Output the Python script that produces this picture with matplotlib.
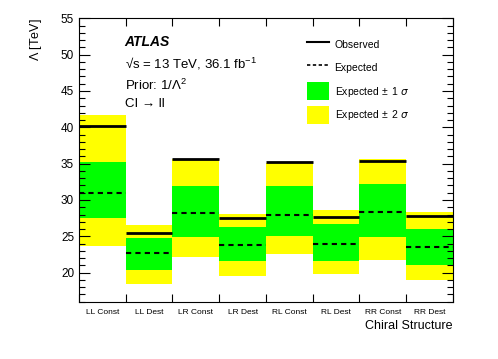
import numpy as np
import matplotlib
matplotlib.use("Agg")
import matplotlib.pyplot as plt
from matplotlib.patches import Patch
from matplotlib.lines import Line2D
from matplotlib.ticker import MultipleLocator, FixedLocator

plt.rcParams['font.family'] = ['Liberation Sans', 'DejaVu Sans']
plt.rcParams['mathtext.fontset'] = 'custom'
plt.rcParams['mathtext.rm'] = 'Liberation Sans'

# chiral structures and limits on Lambda [TeV]
categories = ["LL Const", "LL Dest", "LR Const", "LR Dest",
              "RL Const", "RL Dest", "RR Const", "RR Dest"]
observed = [40.2, 25.4, 35.7, 27.5, 35.2, 27.6, 35.3, 27.8]
expected = [30.9, 22.7, 28.2, 23.8, 28.0, 24.0, 28.4, 23.5]
sig1_lo = [27.5, 20.4, 24.9, 21.6, 25.0, 21.55, 24.95, 21.0]
sig1_hi = [35.25, 24.8, 31.9, 26.3, 31.9, 26.75, 32.2, 26.0]
sig2_lo = [23.7, 18.5, 22.15, 19.6, 22.5, 19.8, 21.8, 19.0]
sig2_hi = [41.7, 26.5, 35.6, 28.05, 35.1, 28.6, 35.6, 28.35]

fig = plt.figure(figsize=(4.98, 3.59), dpi=100)
ax = fig.add_axes([0.1586, 0.1596, 0.751, 0.7894])

x = np.arange(len(categories))
s2lo = np.array(sig2_lo); s2hi = np.array(sig2_hi)
s1lo = np.array(sig1_lo); s1hi = np.array(sig1_hi)

ax.bar(x, s2hi - s2lo, bottom=s2lo, width=1, align='edge', color='#ffff00', lw=0)
ax.bar(x, s1hi - s1lo, bottom=s1lo, width=1, align='edge', color='#00ff00', lw=0)
ax.hlines(expected, x, x + 1, colors='black', lw=1.5, linestyles=(0, (2.5, 2)))
ax.hlines(observed, x, x + 1, colors='black', lw=2)

ax.set_xlim(0, len(categories))
ax.set_ylim(16, 55)

# ticks in ROOT style
ax.xaxis.set_major_locator(FixedLocator(np.arange(len(categories) + 1)))
ax.xaxis.set_major_formatter(plt.NullFormatter())
ax.xaxis.set_minor_locator(FixedLocator(x + 0.5))
ax.set_xticklabels(categories, minor=True, fontsize=6)
ax.tick_params(axis='x', which='minor', length=0, pad=5)
ax.tick_params(axis='x', which='major', direction='in', length=6, top=True, width=0.8)
ax.yaxis.set_major_locator(MultipleLocator(5))
ax.yaxis.set_minor_locator(MultipleLocator(1))
ax.tick_params(axis='y', which='major', direction='in', length=8, right=True,
               labelsize=8.5, width=0.8)
ax.tick_params(axis='y', which='minor', direction='in', length=4, right=True, width=0.8)

ax.set_xlabel("Chiral Structure", fontsize=9, loc='right', labelpad=3)
ax.set_ylabel(r"$\Lambda$ [TeV]", fontsize=9, loc='top', labelpad=12)

ax.text(0.122, 0.915, "ATLAS", transform=ax.transAxes, fontsize=10,
        fontweight='bold', fontstyle='italic', va='center')
ax.text(0.122, 0.84, "√s = 13 TeV, 36.1 fb$^{-1}$", transform=ax.transAxes,
        fontsize=9.5, va='center')
ax.text(0.122, 0.762, r"Prior: 1/$\Lambda^2$", transform=ax.transAxes,
        fontsize=9.5, va='center')
ax.text(0.122, 0.697, "CI → ll", transform=ax.transAxes,
        fontsize=9.5, va='center')

handles = [Line2D([], [], color='black', lw=1.5),
           Line2D([], [], color='black', lw=1.2, ls=(0, (2, 1.5))),
           Patch(color='#00ff00', lw=0),
           Patch(color='#ffff00', lw=0)]
labels = ["Observed", "Expected", r"Expected$\,\pm\,$1 $\sigma$", r"Expected$\,\pm\,$2 $\sigma$"]
ax.legend(handles, labels, loc='upper left', bbox_to_anchor=(0.611, 0.938),
          frameon=False, fontsize=7.5, handlelength=2.1, handleheight=2.29,
          labelspacing=0.5, handletextpad=0.5, borderpad=0, borderaxespad=0)

fig.savefig("out.png", dpi=100)
